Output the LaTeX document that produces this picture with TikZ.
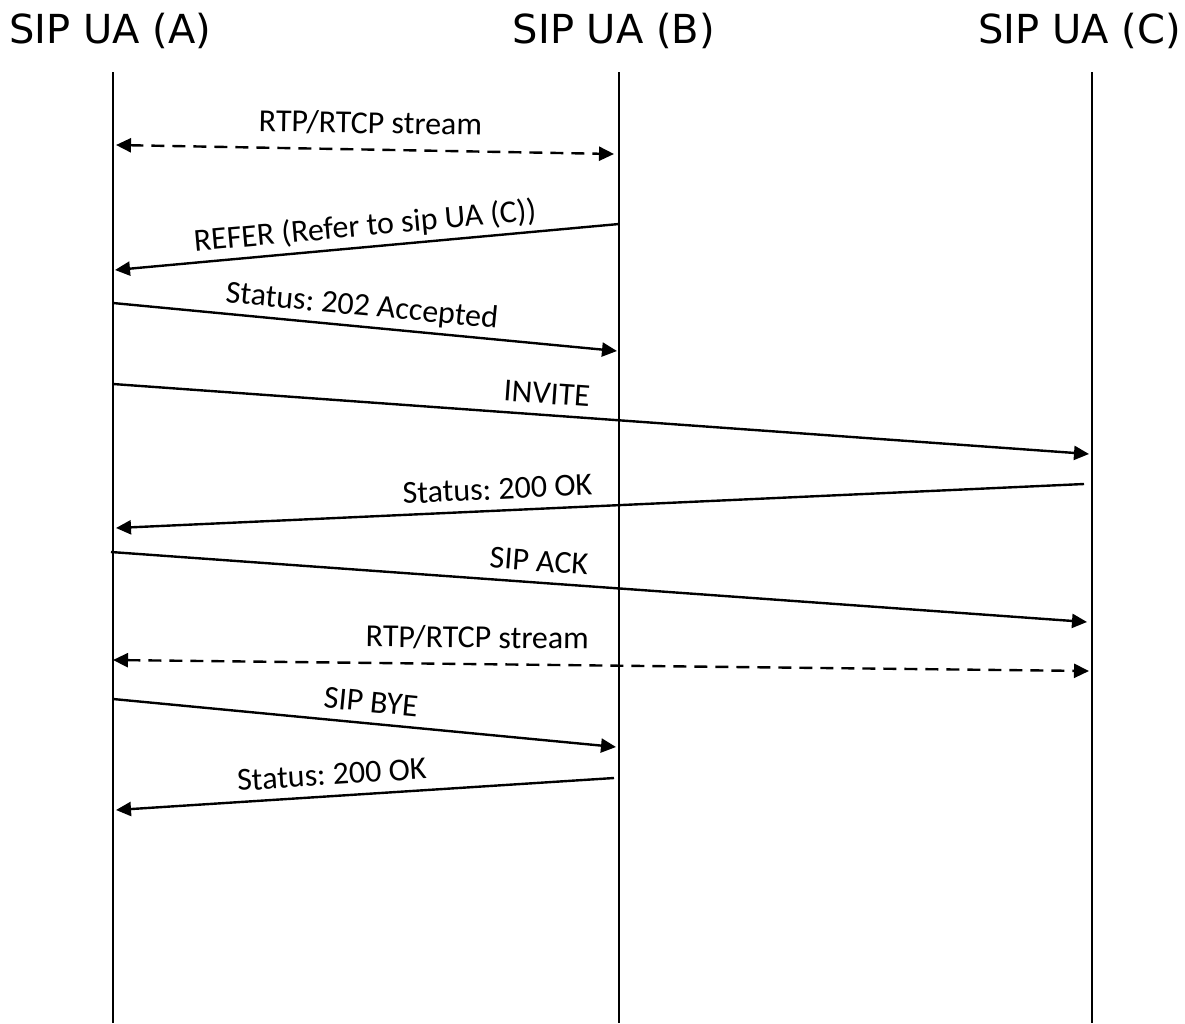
\documentclass[tikz,border=0pt]{standalone}
\usepackage{fontspec}
\setmainfont{Carlito}
\newfontfamily\headfont{DejaVu Sans}
\usetikzlibrary{arrows.meta}
\frenchspacing

\begin{document}
\begin{tikzpicture}[x=1pt, y=-1pt, >={Triangle[length=15pt, width=14pt]}, line width=2.4pt,
		ua/.style={font=\headfont\fontsize{40}{42}\selectfont, anchor=base, inner sep=0pt},
		lbl/.style={font=\fontsize{32}{34}\selectfont, sloped, text depth=0pt, inner sep=0pt, above=#1},
		lbl/.default=10pt,
		stream/.style={<->, dashed, dash pattern=on 13pt off 8pt}]
	\useasboundingbox (0,0) rectangle (1185,1023);
	
	% Ba tác nhân SIP
	\node[ua] (uaA) at (110.5,43) {SIP UA (A)};
	\node[ua] (uaB) at (614,43) {SIP UA (B)};
	\node[ua] (uaC) at (1079.5,43) {SIP UA (C)};
	
	% Đường thời gian
	\foreach \u/\x in {A/113, B/619, C/1092} {
		\coordinate (\u top) at (\x,72);
		\coordinate (\u bot) at (\x,1023);
		\draw (\u top) -- (\u bot);
	}
	
	% Luồng RTP/RTCP giữa A và B
	\coordinate (s1a) at (116,145); \coordinate (s1b) at (614,154);
	\draw[stream] (s1a) -- node[lbl=15pt, pos=0.51] {RTP/RTCP stream} (s1b);
	
	% REFER và trả lời 202
	\coordinate (ref1) at (619,224); \coordinate (ref2) at (115,270);
	\draw[->] (ref1) -- node[lbl, pos=0.5] {REFER (Refer to sip UA (C))} (ref2);
	\coordinate (acc1) at (113,303); \coordinate (acc2) at (617,351);
	\draw[->] (acc1) -- node[lbl, pos=0.49] {Status: 202 Accepted} (acc2);
	
	% Thiết lập cuộc gọi A -- C
	\coordinate (inv1) at (113,384); \coordinate (inv2) at (1089,454);
	\draw[->] (inv1) -- node[lbl, pos=0.443] {INVITE} (inv2);
	\coordinate (ok1) at (1084,484); \coordinate (ok2) at (116,528);
	\draw[->] (ok1) -- node[lbl, pos=0.605] {Status: 200 OK} (ok2);
	\coordinate (ack1) at (111,552); \coordinate (ack2) at (1087,622);
	\draw[->] (ack1) -- node[lbl, pos=0.437] {SIP ACK} (ack2);
	
	% Luồng RTP/RTCP giữa A và C
	\coordinate (s2a) at (113,660); \coordinate (s2c) at (1089,671);
	\draw[stream] (s2a) -- node[lbl=15pt, pos=0.373] {RTP/RTCP stream} (s2c);
	
	% Kết thúc cuộc gọi A -- B
	\coordinate (bye1) at (113,699); \coordinate (bye2) at (616,747);
	\draw[->] (bye1) -- node[lbl, pos=0.509] {SIP BYE} (bye2);
	\coordinate (fin1) at (614,778); \coordinate (fin2) at (116,810);
	\draw[->] (fin1) -- node[lbl, pos=0.564] {Status: 200 OK} (fin2);
\end{tikzpicture}
\end{document}
